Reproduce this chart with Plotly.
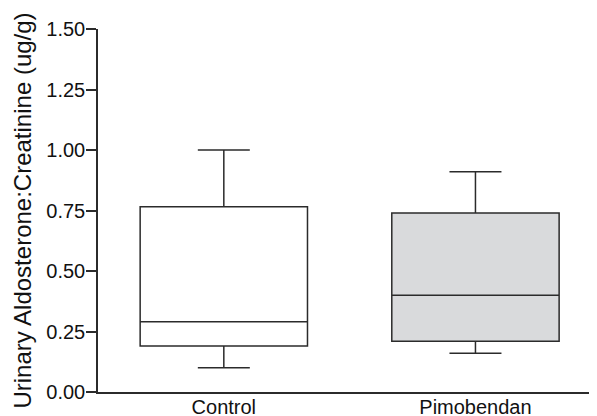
import plotly.graph_objects as go

categories = ["Control", "Pimobendan"]
lower_whisker = [0.10, 0.16]
q1 = [0.19, 0.21]
median = [0.29, 0.40]
q3 = [0.765, 0.74]
upper_whisker = [1.00, 0.91]
fills = ["#ffffff", "#d9dadc"]
y_ticks = [0.0, 0.25, 0.5, 0.75, 1.0, 1.25, 1.5]

LINE = "#2b2b2b"
FONT = "Liberation Sans, Arial, Helvetica, sans-serif"

fig = go.Figure()
positions = list(range(len(categories)))
for i, cat in enumerate(categories):
    fig.add_trace(go.Box(
        x=[positions[i]], q1=[q1[i]], median=[median[i]], q3=[q3[i]],
        lowerfence=[lower_whisker[i]], upperfence=[upper_whisker[i]],
        name=cat, width=0.665, boxpoints=False,
        fillcolor=fills[i], line=dict(color=LINE, width=1.5),
        whiskerwidth=0, showlegend=False, hoverinfo="skip",
    ))

# whisker caps at both fences
for vals in (upper_whisker, lower_whisker):
    fig.add_trace(go.Scatter(
        x=positions, y=vals, mode="markers",
        marker=dict(size=1, color="rgba(0,0,0,0)"),
        error_y=dict(type="data", array=[0] * len(vals), visible=True,
                     width=26, thickness=1.5, color=LINE),
        showlegend=False, hoverinfo="skip",
    ))

fig.update_layout(
    width=589, height=408,
    margin=dict(l=90, r=0, t=21, b=24, autoexpand=False),
    paper_bgcolor="white", plot_bgcolor="white",
    font=dict(family=FONT, size=20, color="#111111"),
)
fig.update_xaxes(
    range=[-0.5, 1.483], tickvals=positions, ticktext=categories,
    showline=True, linecolor=LINE, linewidth=1.5, showgrid=False,
    zeroline=False, ticks="", tickfont=dict(size=20), ticklabelstandoff=-4,
)
fig.update_yaxes(
    range=[0, 1.5], tickvals=y_ticks, ticktext=[f"{v:.2f}" for v in y_ticks],
    showline=True, linecolor=LINE, linewidth=1.5, showgrid=False,
    zeroline=False, ticks="outside", ticklen=10, tickwidth=1.5, tickcolor=LINE,
    tickfont=dict(size=20), ticklabelstandoff=-3,
    title=dict(text="Urinary Aldosterone:Creatinine (ug/g)", font=dict(size=24), standoff=8),
    automargin=False,
)

fig.write_html("out.html")
